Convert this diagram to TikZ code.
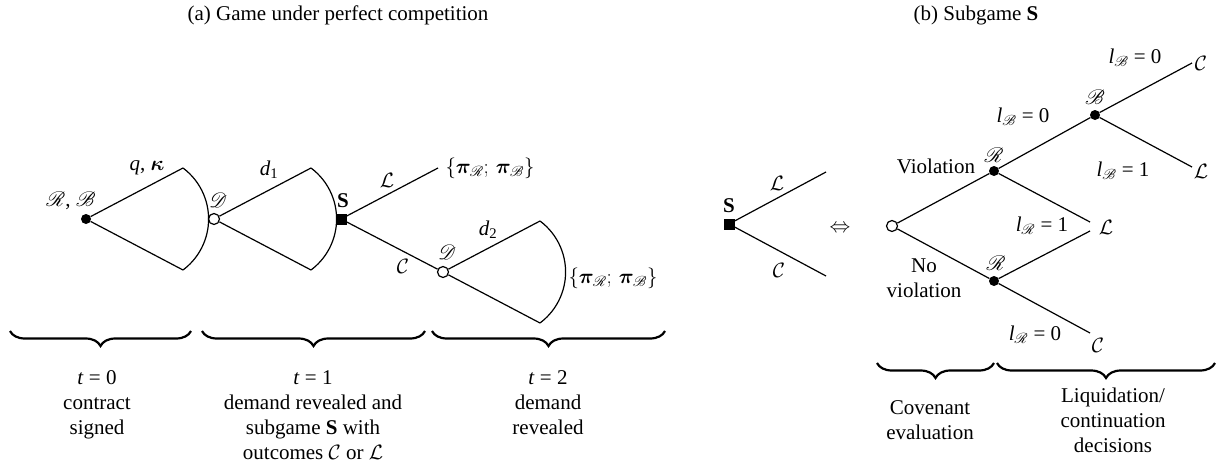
\documentclass[tikz,border=0pt]{standalone}
\usepackage{amsmath}
\usepackage{bm}
\usepackage{mathrsfs}
\usepackage{fontspec}
\setmainfont{Liberation Serif}
\usetikzlibrary{decorations.pathreplacing}
\newcommand{\mi}[1]{\textit{#1}}
\newcommand{\sub}[1]{\textsubscript{#1}}
\begin{document}
\begin{tikzpicture}[x=1pt,y=-1pt,
  every node/.style={font=\fontsize{21}{25}\selectfont, inner sep=0pt},
  edge/.style={line width=1.2pt},
  bdot/.style={circle,fill=black,minimum size=10pt,inner sep=0pt},
  odot/.style={circle,draw,fill=white,line width=1.2pt,minimum size=11pt,inner sep=0pt},
  sq/.style={rectangle,fill=black,minimum size=11pt,inner sep=0pt},
  brc/.style={decorate,decoration={brace,mirror,amplitude=15pt},line width=2.2pt},
  txt/.style={align=center, anchor=north}
]
\useasboundingbox (0,0) rectangle (1217,463);

% titles
\node (ta) at (338,15) {(a) Game under perfect competition};
\node (tb) at (976,15) {(b) Subgame \textbf{S}};

% ---------- (a) ----------
\node[bdot] (r0) at (86,219) {};
\node[odot] (c1) at (214,219) {};
\node[sq] (s1) at (341,219) {};
\node[odot] (c2) at (443,272) {};
\coordinate (f1u) at (183,168);
\coordinate (f1l) at (183,270);
\coordinate (f2u) at (311,168);
\coordinate (f2l) at (311,270);
\coordinate (f3u) at (540,221);
\coordinate (f3l) at (540,323);
\coordinate (s1L) at (438,168);

\draw[edge] (f1u) -- (r0) -- (f1l);
\draw[edge] (f1u) arc[start angle=-53.3,end angle=53.3,radius=63.6];
\draw[edge] (f2u) -- (c1) -- (f2l);
\draw[edge] (f2u) arc[start angle=-53.3,end angle=53.3,radius=63.6];
\draw[edge] (s1) -- (s1L);
\draw[edge] (s1) -- (c2);
\draw[edge] (f3u) -- (c2) -- (f3l);
\draw[edge] (f3u) arc[start angle=-53.3,end angle=53.3,radius=63.6];

\node (lRB) at (71,201) {$\mathscr{R}$, $\mathscr{B}$};
\node (lqk) at (147,168) {\mi{q}, $\bm{\kappa}$};
\node (lD1) at (218,200) {$\mathscr{D}$};
\node (ld1) at (269,170) {\mi{d}\sub{1}};
\node (lS1) at (343,201) {\textbf{S}};
\node (lL1) at (387,180) {$\mathcal{L}$};
\node (lC1) at (403,266) {$\mathcal{C}$};
\node (pay1) at (490,168) {$\{\bm{\pi}_{\mathscr{R}};\, \bm{\pi}_{\mathscr{B}}\}$};
\node (lD2) at (447,252) {$\mathscr{D}$};
\node (ld2) at (488,230) {\mi{d}\sub{2}};
\node (pay2) at (613,278) {$\{\bm{\pi}_{\mathscr{R}};\, \bm{\pi}_{\mathscr{B}}\}$};

% braces (a)
\coordinate (b1a) at (10,331);  \coordinate (b1b) at (191,331);
\coordinate (b2a) at (202,331); \coordinate (b2b) at (425,331);
\coordinate (b3a) at (432,331); \coordinate (b3b) at (665,331);
\draw[brc] (b1a) -- (b1b);
\draw[brc] (b2a) -- (b2b);
\draw[brc] (b3a) -- (b3b);
\node[txt] (t0) at (97,370) {\mi{t} = 0\\contract\\signed};
\node[txt] (t1) at (313,370) {\mi{t} = 1\\demand revealed and\\subgame \textbf{S} with\\outcomes $\mathcal{C}$ or $\mathcal{L}$};
\node[txt] (t2) at (548,370) {\mi{t} = 2\\demand\\revealed};

% ---------- (b) ----------
\node[sq] (s2) at (729,224) {};
\coordinate (s2L) at (826,172);
\coordinate (s2C) at (826,276);
\draw[edge] (s2) -- (s2L);
\draw[edge] (s2) -- (s2C);
\node (lS2) at (729,206) {\textbf{S}};
\node (lL2) at (777,183) {$\mathcal{L}$};
\node (lC2) at (779,270) {$\mathcal{C}$};
\node (iff) at (840,229) {$\Leftrightarrow$};

\node[odot] (c3) at (892,226) {};
\node[bdot] (R1) at (994,171) {};
\node[bdot] (B1) at (1095,115) {};
\node[bdot] (R2) at (994,281) {};
\coordinate (eC1) at (1192,63);
\coordinate (eL1) at (1192,167);
\coordinate (eL2) at (1090,222);
\coordinate (eL3) at (1090,231);
\coordinate (eC2) at (1090,333);
\draw[edge] (c3) -- (R1);
\draw[edge] (c3) -- (R2);
\draw[edge] (R1) -- (B1);
\draw[edge] (R1) -- (eL2);
\draw[edge] (B1) -- (eC1);
\draw[edge] (B1) -- (eL1);
\draw[edge] (R2) -- (eL3);
\draw[edge] (R2) -- (eC2);

\node (lviol) at (936,166) {Violation};
\node[align=center] (lnov) at (924,278) {No\\violation};
\node (lR1) at (994,155) {$\mathscr{R}$};
\node (lR2) at (996,263) {$\mathscr{R}$};
\node (lB1) at (1095,97) {$\mathscr{B}$};
\node (lb0m) at (1023,117) {\mi{l}\sub{$\mathscr{B}$} = 0};
\node (lb0t) at (1135,58) {\mi{l}\sub{$\mathscr{B}$} = 0};
\node (lb1) at (1123,171) {\mi{l}\sub{$\mathscr{B}$} = 1};
\node (lr1) at (1042,226) {\mi{l}\sub{$\mathscr{R}$} = 1};
\node (lr0) at (1035,335) {\mi{l}\sub{$\mathscr{R}$} = 0};
\node (oC1) at (1201,63) {$\mathcal{C}$};
\node (oL1) at (1201,171) {$\mathcal{L}$};
\node (oL2) at (1106,227) {$\mathcal{L}$};
\node (oC2) at (1098,345) {$\mathcal{C}$};

% braces (b)
\coordinate (b4a) at (877,363);  \coordinate (b4b) at (994,363);
\coordinate (b5a) at (997,363);  \coordinate (b5b) at (1215,363);
\draw[brc] (b4a) -- (b4b);
\draw[brc] (b5a) -- (b5b);
\node[txt] (cov) at (930,400) {Covenant\\evaluation};
\node[txt] (liq) at (1113,388) {Liquidation/\\continuation\\decisions};
\end{tikzpicture}
\end{document}
